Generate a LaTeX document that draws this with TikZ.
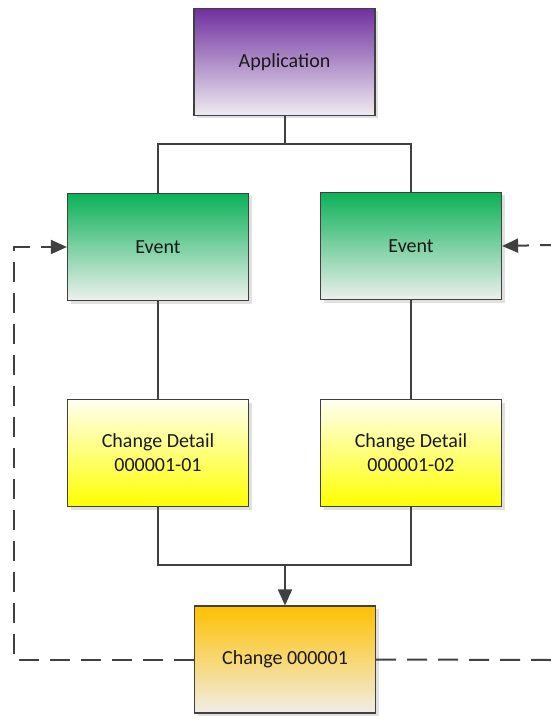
\documentclass[tikz,border=0pt]{standalone}
\usepackage{fontspec}
\setmainfont{Carlito}
\usetikzlibrary{arrows.meta,shadows}

\definecolor{linegray}{HTML}{404040}
\definecolor{appTop}{HTML}{7030A0}
\definecolor{appBot}{HTML}{EFECF1}
\definecolor{evTop}{HTML}{0CB158}
\definecolor{evBot}{HTML}{ECF0ED}
\definecolor{cdTop}{HTML}{FFFFF0}
\definecolor{cdBot}{HTML}{FFFF00}
\definecolor{chTop}{HTML}{FFC000}
\definecolor{chBot}{HTML}{F0EDE6}

\tikzset{
  box/.style={draw=linegray, line width=1.2pt, minimum width=181pt, minimum height=107pt,
    align=center, inner sep=0pt, text=black!90,
    font=\fontsize{20}{24}\selectfont,
    drop shadow={shadow xshift=3pt, shadow yshift=-3pt, fill=black!12, opacity=1}},
  appbox/.style={box, top color=appTop, bottom color=appBot},
  evbox/.style={box, top color=evTop, bottom color=evBot},
  cdbox/.style={box, top color=cdTop, bottom color=cdBot},
  chbox/.style={box, top color=chTop, bottom color=chBot},
  link/.style={draw=linegray, line width=2pt},
  loop/.style={link, dash pattern=on 20pt off 11pt},
  tip/.style={-{Triangle[length=16pt,width=14pt]}}
}

\begin{document}
\begin{tikzpicture}[x=1pt,y=-1pt]
\useasboundingbox (0,0) rectangle (550,719);

\node (app) at (284.5,62) [appbox] {Application};
\node (evL) at (158,247) [evbox] {Event};
\node (evR) at (411,246) [evbox] {Event};
\node (cdL) at (158,453) [cdbox] {Change Detail\\000001-01};
\node (cdR) at (411,453) [cdbox] {Change Detail\\000001-02};
\node (chg) at (285,659.5) [chbox] {Change 000001};

\coordinate (split) at (284.5,144);
\coordinate (join) at (285,565);
\coordinate (outR) at (552,660);
\coordinate (inR) at (552,245);

\draw [link] (app.south) -- (split) -| (evL.north);
\draw [link] (split) -| (evR.north);
\draw [link] (evL.south) -- (cdL.north);
\draw [link] (evR.south) -- (cdR.north);
\draw [link] (cdL.south) |- (join) -| (cdR.south);
\draw [link, tip] (join) -- (chg.north);

\draw [loop, tip] (chg.west) -- ++(-180,0) |- (evL.west);
\draw [loop] (chg.east) -- (outR);
\draw [loop, tip, dash phase=8pt] (inR) -- (evR.east);
\end{tikzpicture}
\end{document}
